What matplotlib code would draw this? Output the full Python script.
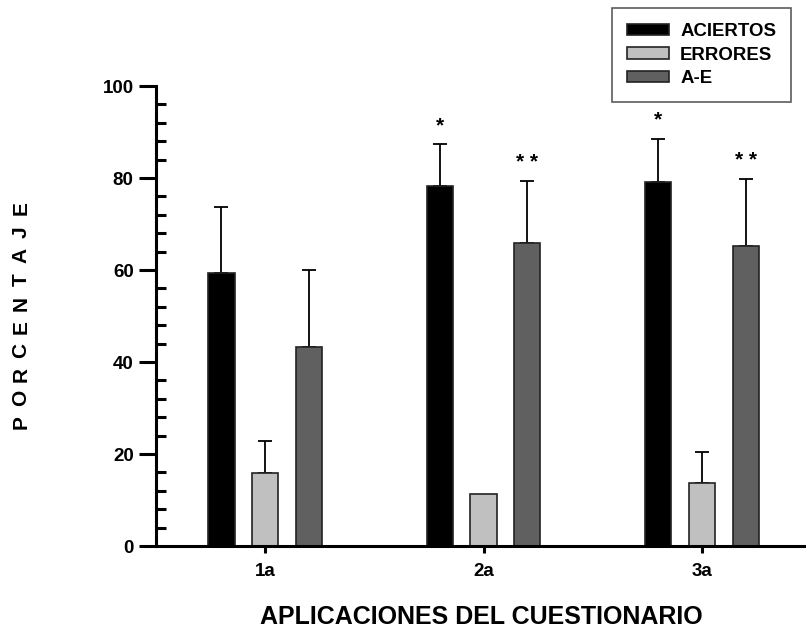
import matplotlib.pyplot as plt
import numpy as np
from matplotlib.ticker import MultipleLocator

plt.rcParams['font.family'] = ['Liberation Sans', 'DejaVu Sans']
plt.rcParams['font.weight'] = 'bold'

aplicaciones = ['1a', '2a', '3a']
aciertos = [59.4, 78.2, 79.2]
aciertos_err = [14.4, 9.1, 9.3]
errores = [15.9, 11.3, 13.8]
errores_err = [7.0, 0.0, 6.7]
a_e = [43.2, 65.8, 65.2]
a_e_err = [16.8, 13.6, 14.6]
marcas_aciertos = ['', '*', '*']
marcas_a_e = ['', '* *', '* *']

x = np.arange(len(aplicaciones))
w = 0.12
off = 0.2

fig = plt.figure(figsize=(8.06, 6.31), dpi=100)
ax = fig.add_axes([0.1935, 0.1347, 0.8065, 0.729])

ekw = dict(elinewidth=1.3, capsize=5, capthick=1.3, ecolor='black')
series = [
    (x - off, aciertos, aciertos_err, 'black', 'ACIERTOS'),
    (x, errores, errores_err, '#c0c0c0', 'ERRORES'),
    (x + off, a_e, a_e_err, '#606060', 'A-E'),
]
for pos, vals, err, col, lab in series:
    # no se dibuja barra de error cuando vale cero
    for p, v, e in zip(pos, vals, err):
        if e > 0:
            ax.errorbar(p, v, yerr=[[0], [e]], fmt='none', zorder=1, **ekw)
    ax.bar(pos, vals, width=w, color=col, edgecolor='#222222', linewidth=1.2,
           label=lab, zorder=2)

for p, v, e, m in zip(x - off, aciertos, aciertos_err, marcas_aciertos):
    if m:
        ax.text(p, v + e + 2, m, ha='center', va='bottom', fontsize=15)
for p, v, e, m in zip(x + off, a_e, a_e_err, marcas_a_e):
    if m:
        ax.text(p, v + e + 2, m, ha='center', va='bottom', fontsize=15)

ax.set_xlim(-0.5, 2.476)
ax.set_ylim(0, 100)
ax.set_xticks(x)
ax.set_xticklabels(aplicaciones)
ax.yaxis.set_major_locator(MultipleLocator(20))
ax.yaxis.set_minor_locator(MultipleLocator(4))
ax.tick_params(axis='y', which='major', direction='out', length=12, width=2.2,
               labelsize=13.5, pad=4)
ax.tick_params(axis='y', which='minor', direction='in', length=7, width=2.2)
ax.tick_params(axis='x', which='major', direction='out', length=5, width=2.2,
               labelsize=13.5, pad=7)
for s in ['top', 'right']:
    ax.spines[s].set_visible(False)
for s in ['left', 'bottom']:
    ax.spines[s].set_linewidth(2.2)

ax.set_xlabel('APLICACIONES DEL CUESTIONARIO', fontsize=18,
              fontweight='bold', labelpad=18)

# etiqueta vertical con letras espaciadas
ylab = 'PORCENTAJE'
y0, y1 = 1 - 422 / 631, 1 - 208 / 631
for i, ch in enumerate(ylab):
    yy = y0 + (y1 - y0) * i / (len(ylab) - 1)
    fig.text(0.026, yy, ch, rotation=90, ha='center', va='center',
             fontsize=15, fontweight='bold')

leg = ax.legend(loc='upper left', bbox_to_anchor=(0.7015, 1.1696),
                borderaxespad=0, fontsize=13.4, frameon=True, fancybox=False,
                edgecolor='#333333', handlelength=2.26, handleheight=0.54,
                handletextpad=0.6, borderpad=0.8, labelspacing=0.36)
leg.get_frame().set_linewidth(1.2)

fig.savefig('out.png', dpi=100)
